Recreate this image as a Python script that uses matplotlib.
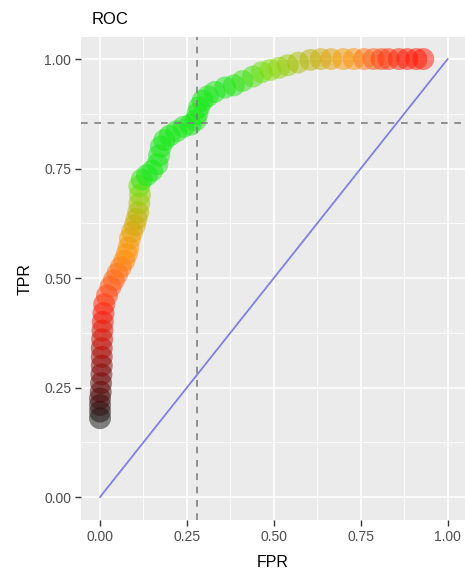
import matplotlib
matplotlib.use("Agg")
import matplotlib.pyplot as plt
from matplotlib.colors import LinearSegmentedColormap

# --- данные ROC ---
fpr = [0.0, 0.0, 0.0, 0.0, 0.002, 0.003, 0.004, 0.005, 0.005, 0.005, 0.006, 0.007, 0.008, 0.01, 0.012,
       0.02, 0.03, 0.04, 0.05, 0.06, 0.07, 0.077, 0.082, 0.086, 0.092, 0.1, 0.105, 0.11, 0.113, 0.115, 0.113,
       0.12, 0.135, 0.15, 0.165, 0.17, 0.175, 0.185, 0.2, 0.22, 0.24, 0.26, 0.275, 0.28, 0.285, 0.295,
       0.31, 0.33, 0.36, 0.385,
       0.41, 0.44, 0.465, 0.49, 0.515, 0.54, 0.57, 0.605, 0.635, 0.665, 0.70, 0.73, 0.76, 0.787,
       0.81, 0.83, 0.86, 0.884, 0.91, 0.93]
tpr = [0.18, 0.195, 0.21, 0.225, 0.24, 0.26, 0.28, 0.30, 0.32, 0.34, 0.36, 0.38, 0.40, 0.42, 0.44,
       0.46, 0.48, 0.495, 0.51, 0.525, 0.54, 0.555, 0.57, 0.59, 0.605, 0.62, 0.635, 0.65, 0.67, 0.69, 0.71,
       0.725, 0.735, 0.745, 0.76, 0.78, 0.80, 0.815, 0.825, 0.835, 0.845, 0.85, 0.86, 0.875, 0.89, 0.905,
       0.915, 0.925, 0.935, 0.94,
       0.95, 0.96, 0.97, 0.975, 0.98, 0.986, 0.992, 0.998, 1.0, 1.0, 1.0, 1.0, 1.0, 1.0,
       1.0, 1.0, 1.0, 1.0, 1.0, 1.0]
score = [0.0, 0.03, 0.07, 0.11, 0.15, 0.19, 0.23, 0.26, 0.29, 0.32, 0.35, 0.37, 0.39, 0.41, 0.43,
         0.46, 0.48, 0.50, 0.52, 0.54, 0.56, 0.58, 0.60, 0.62, 0.65, 0.68, 0.71, 0.75, 0.80, 0.86, 0.92,
         0.97, 1.0, 1.0, 1.0, 1.0, 1.0, 1.0, 1.0, 1.0, 1.0, 1.0, 1.0, 1.0, 1.0, 1.0,
         1.0, 1.0, 1.0, 0.99,
         0.97, 0.95, 0.92, 0.90, 0.87, 0.84, 0.79, 0.75, 0.71, 0.66, 0.62, 0.59, 0.54, 0.50,
         0.47, 0.45, 0.43, 0.42, 0.42, 0.42]

cut_fpr = 0.278
cut_tpr = 0.854

x_ticks = [0.0, 0.25, 0.5, 0.75, 1.0]
y_ticks = [0.0, 0.25, 0.5, 0.75, 1.0]
tick_labels = ["0.00", "0.25", "0.50", "0.75", "1.00"]

plt.rcParams["font.family"] = ["Liberation Sans", "DejaVu Sans"]

cmap = LinearSegmentedColormap.from_list(
    "roc",
    [(0.0, "#111111"), (0.25, "#7a0000"), (0.42, "#ff1500"), (0.5, "#ff5a10"),
     (0.6, "#ff9500"), (0.76, "#b4b400"), (0.9, "#80dc00"), (1.0, "#10e810")],
)

fig = plt.figure(figsize=(4.65, 5.86), dpi=100)
ax = fig.add_axes([0.174, 0.1126, 0.826, 0.824])
ax.set_facecolor("#EBEBEB")

# сетка в стиле ggplot
minor = [0.125, 0.375, 0.625, 0.875]
ax.set_xticks(minor, minor=True)
ax.set_yticks(minor, minor=True)
ax.grid(which="major", color="white", linewidth=1.2)
ax.grid(which="minor", color="white", linewidth=0.6)
ax.set_axisbelow(True)
for s in ax.spines.values():
    s.set_visible(False)

ax.plot([0, 1], [0, 1], color="#8080e0", linewidth=1.3, zorder=2)
ax.scatter(fpr, tpr, c=score, cmap=cmap, vmin=0, vmax=1, s=250, alpha=0.5,
           linewidths=0, zorder=3)
ax.axvline(cut_fpr, color="#7f7f7f", linestyle=(0, (4, 4)), linewidth=1.2, zorder=4)
ax.axhline(cut_tpr, color="#7f7f7f", linestyle=(0, (4, 4)), linewidth=1.2, zorder=4)

ax.set_xlim(-0.055, 1.05)
ax.set_ylim(-0.0525, 1.05)
ax.set_xticks(x_ticks)
ax.set_xticklabels(tick_labels)
ax.set_yticks(y_ticks)
ax.set_yticklabels(tick_labels)
ax.tick_params(which="major", length=4, width=1, color="#333333", labelcolor="#4d4d4d",
               labelsize=10, pad=3)
ax.tick_params(which="minor", length=0)

ax.set_xlabel("FPR", fontsize=11.5, color="black", labelpad=8)
ax.set_ylabel("TPR", fontsize=11.5, color="black", labelpad=8)
fig.text(92 / 465, 1 - 20 / 586, "ROC", fontsize=12, va="center", ha="left")

fig.savefig("out.png", dpi=100)
plt.close(fig)
